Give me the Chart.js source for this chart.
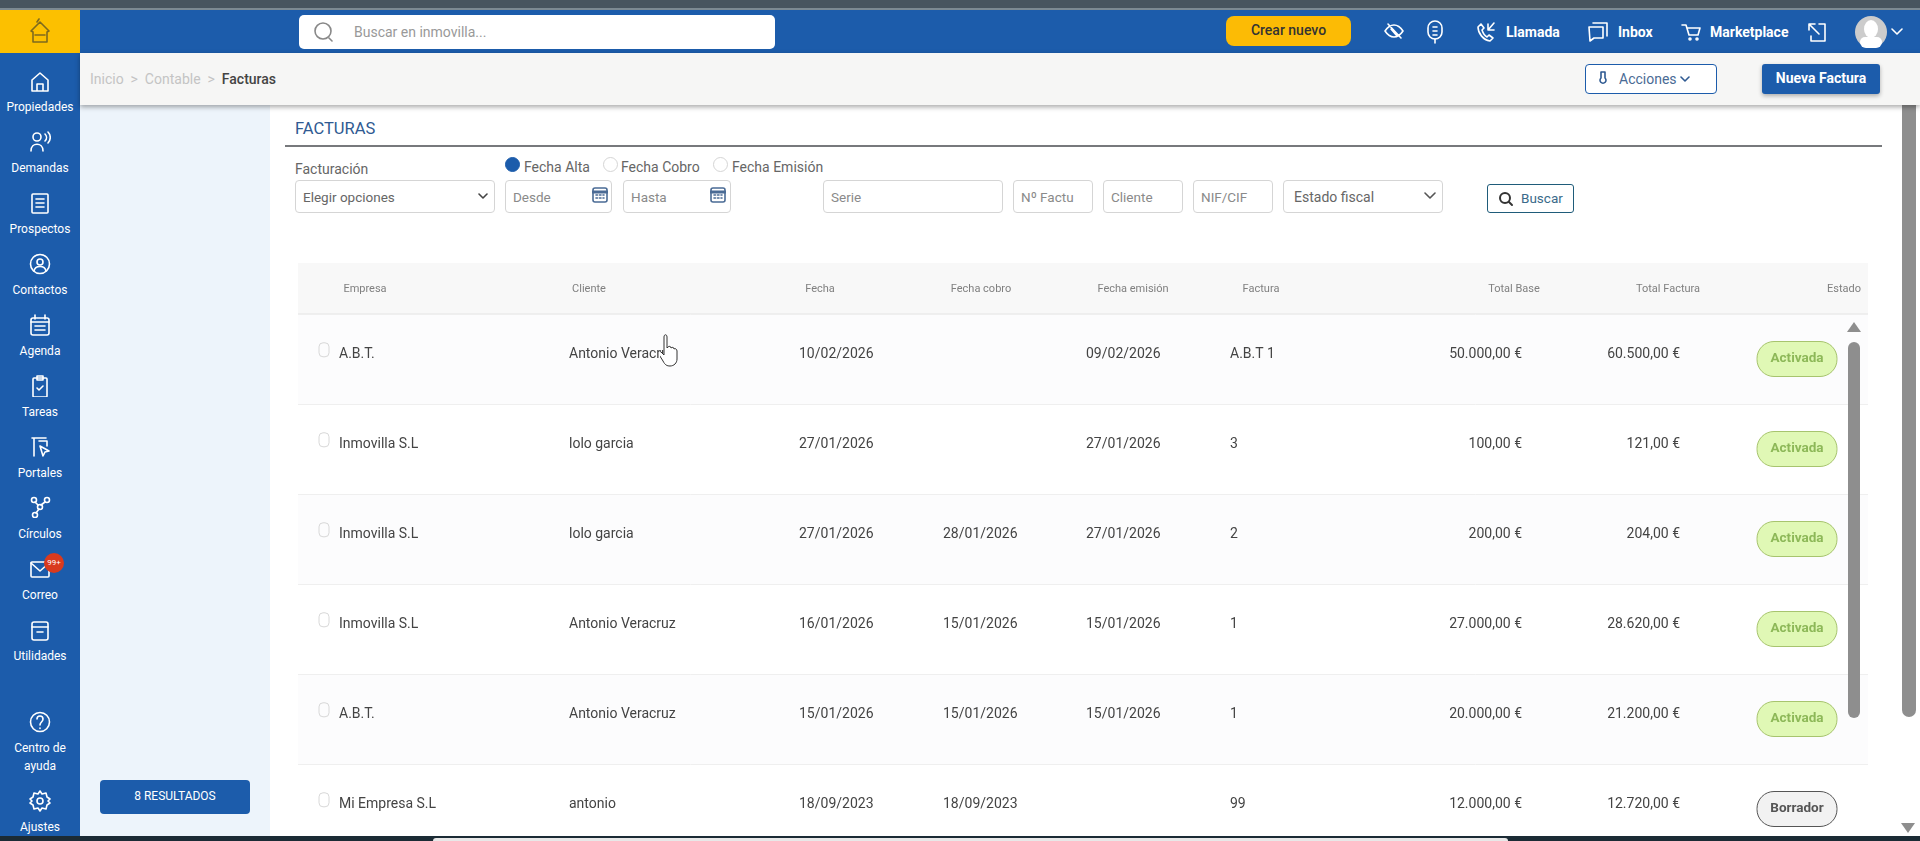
<!DOCTYPE html>
<html lang="es">
<head>
<meta charset="utf-8">
<title>Facturas</title>
<script src="https://cdn.jsdelivr.net/npm/chart.js@4"></script>
<style>
* { box-sizing: border-box; }
html, body { margin: 0; width: 1920px; height: 841px; overflow: hidden; background: #fff; font-family: Roboto, sans-serif; }
.a { position: absolute; white-space: nowrap; }
.field { position: absolute; top: 180px; height: 33px; border: 1px solid #d5d5d5; border-radius: 4px; font-size: 13.5px; color: #8a8a8a; line-height: 32px; padding-left: 7px; background: #fff; }
.ico { position: absolute; fill: none; stroke: currentColor; stroke-width: 1.6; stroke-linecap: round; stroke-linejoin: round; }
.side { position: absolute; left: 0; width: 80px; text-align: center; color: #fff; font-size: 12px; line-height: 18px; transform: translateY(-9px); }
.radio { position: absolute; top: 157px; width: 15px; height: 15px; border-radius: 50%; border: 1px solid #d5d5d5; }
.lbl { position: absolute; top: 158px; font-size: 14px; line-height: 18px; color: #666; white-space: nowrap; }
.top { position: absolute; top: 22px; font-size: 14px; font-weight: 700; line-height: 20px; color: #fff; white-space: nowrap; }
#tabla { position: absolute; left: 298px; top: 263px; }
</style>
</head>
<body>
<div class="a" style="left:0;top:0;width:1920px;height:8px;background:#48555f"></div>
<div class="a" style="left:0;top:8px;width:1920px;height:2px;background:#7d8a92"></div>
<div class="a" style="left:0;top:10px;width:1920px;height:43px;background:#1c5cab"></div>
<div class="a" style="left:0;top:10px;width:80px;height:43px;background:#fcc000"></div>
<div class="a" style="left:0;top:53px;width:80px;height:783px;background:#1c5cab"></div>
<div class="a" style="left:80px;top:53px;width:1840px;height:52px;background:#f6f6f5;box-shadow:0 2px 5px rgba(0,0,0,.35);z-index:2"></div>
<div class="a" style="left:80px;top:105px;width:190px;height:731px;background:#edf4fb"></div>

<svg class="ico" style="left:27px;top:18px;color:#7d6a1e" width="26" height="28" viewBox="0 0 26 28"><path d="M4 13 13 4l9 9-2 1v10H6V14zM8 17h10M10 4l2-3"/></svg>

<div class="a" style="left:299px;top:15px;width:476px;height:34px;background:#fff;border-radius:5px"></div>
<svg class="ico" style="left:313px;top:20px;color:#888" width="24" height="24" viewBox="0 0 24 24"><circle cx="10" cy="11" r="8"/><path d="m16 18 3 3"/></svg>
<div class="a" style="left:354px;top:22px;font-size:14px;line-height:20px;color:#999">Buscar en inmovilla...</div>

<div class="a" style="left:1226px;top:16px;width:125px;height:30px;background:#fcbb05;border-radius:8px;text-align:center;font-size:14px;font-weight:500;line-height:29px;color:#333">Crear nuevo</div>
<svg class="ico" style="left:1384px;top:21px;color:#fff" width="20" height="20" viewBox="0 0 20 20"><path d="M1 10s4-6 9-6 9 6 9 6-4 6-9 6-9-6-9-6zM4 3l13 14M7 8l6 7"/></svg>
<svg class="ico" style="left:1426px;top:19px;color:#fff" width="18" height="26" viewBox="0 0 18 26"><rect x="2" y="2" width="14" height="18" rx="7"/><path d="M9 20v4M7 8h4M7 12h4M7 16h4"/></svg>
<svg class="ico" style="left:1476px;top:21px;color:#fff" width="20" height="22" viewBox="0 0 20 22"><path d="M5 3 2 6c0 6 5 13 12 14l3-3-4-3-2 2c-2-1-4-4-5-7l2-2zM12 9l6-7M12 3v6h6"/></svg>
<div class="top" style="left:1506px">Llamada</div>
<svg class="ico" style="left:1588px;top:21px;color:#fff" width="20" height="22" viewBox="0 0 20 22"><path d="M5 2h14v13M1 6h14v11H6l-4 3z"/></svg>
<div class="top" style="left:1618px">Inbox</div>
<svg class="ico" style="left:1681px;top:22px;color:#fff" width="20" height="20" viewBox="0 0 20 20"><path d="M1 3h4l3 10h9l2-7H6"/><circle cx="9" cy="17" r="1"/><circle cx="16" cy="17" r="1"/></svg>
<div class="top" style="left:1710px">Marketplace</div>
<svg class="ico" style="left:1807px;top:21px;color:#fff" width="20" height="22" viewBox="0 0 20 22"><path d="M8 3H2v6M2 3l10 10M12 3h6v17H4v-5"/></svg>
<div class="a" style="left:1855px;top:16px;width:32px;height:32px;border-radius:50%;background:#ccc"></div>
<div class="a" style="left:1864px;top:20px;width:14px;height:18px;border-radius:50%;background:#fff"></div>
<div class="a" style="left:1860px;top:37px;width:22px;height:11px;border-radius:10px 10px 12px 12px;background:#fff"></div>
<svg class="ico" style="left:1891px;top:27px;color:#fff" width="12" height="10" viewBox="0 0 12 10"><path d="m1 2 5 5 5-5"/></svg>

<div class="a" style="left:90px;top:70px;font-size:14px;line-height:18px;z-index:3;color:#c4c4c4">Inicio &nbsp;&gt;&nbsp; Contable &nbsp;&gt;&nbsp; <b style="color:#444;font-weight:500">Facturas</b></div>
<div class="a" style="left:1585px;top:64px;width:132px;height:30px;background:#fff;border:1px solid #1c5cab;border-radius:4px;z-index:3;font-size:14px;line-height:28px;color:#4a6b95;padding-left:33px">Acciones</div>
<svg class="ico" style="left:1680px;top:76px;z-index:3;color:#2f5a92" width="10" height="8" viewBox="0 0 10 8"><path d="m1 1 4 4 4-4"/></svg>
<svg class="ico" style="left:1598px;top:70px;z-index:3;color:#2f5a92" width="10" height="16" viewBox="0 0 10 16"><path d="M3 2h4v6a3 3 0 1 1-4 0z"/></svg>
<div class="a" style="left:1762px;top:64px;width:118px;height:30px;background:#1c5cab;border-radius:3px;z-index:3;box-shadow:0 2px 4px rgba(0,0,0,.3);text-align:center;font-size:14px;font-weight:700;line-height:29px;color:#fff">Nueva Factura</div>

<div class="a" style="left:295px;top:119px;font-size:16.5px;line-height:20px;color:#2f5a92">FACTURAS</div>
<div class="a" style="left:285px;top:145px;width:1597px;height:2px;background:#77797c"></div>
<div class="a" style="left:295px;top:160px;font-size:14px;line-height:18px;color:#666">Facturación</div>
<div class="radio" style="left:505px;background:#1c5cab;border-color:#1c5cab"></div>
<div class="lbl" style="left:524px">Fecha Alta</div>
<div class="radio" style="left:603px"></div>
<div class="lbl" style="left:621px">Fecha Cobro</div>
<div class="radio" style="left:713px"></div>
<div class="lbl" style="left:732px">Fecha Emisión</div>

<div class="field" style="left:295px;width:200px;color:#666">Elegir opciones</div>
<div class="field" style="left:505px;width:107px">Desde</div>
<div class="field" style="left:623px;width:108px">Hasta</div>
<div class="field" style="left:823px;width:180px">Serie</div>
<div class="field" style="left:1013px;width:80px">Nº Factu</div>
<div class="field" style="left:1103px;width:80px">Cliente</div>
<div class="field" style="left:1193px;width:80px">NIF/CIF</div>
<div class="field" style="left:1283px;width:160px;color:#666;font-size:14px;padding-left:10px">Estado fiscal</div>
<svg class="ico" style="left:478px;top:193px;color:#444" width="10" height="8" viewBox="0 0 10 8"><path d="m1 1 4 4 4-4"/></svg>
<svg class="ico" style="left:1424px;top:192px;color:#555" width="12" height="9" viewBox="0 0 12 9"><path d="m1 1 5 5 5-5"/></svg>
<svg class="ico" style="left:592px;top:187px;color:#4a6b95" width="16" height="16" viewBox="0 0 16 16"><rect x="1" y="1" width="14" height="14" rx="2"/><path d="M1 5h14" stroke-width="3"/><path d="M4 8h8M4 11h8" stroke-dasharray="1.5 2"/></svg>
<svg class="ico" style="left:710px;top:187px;color:#4a6b95" width="16" height="16" viewBox="0 0 16 16"><rect x="1" y="1" width="14" height="14" rx="2"/><path d="M1 5h14" stroke-width="3"/><path d="M4 8h8M4 11h8" stroke-dasharray="1.5 2"/></svg>
<div class="a" style="left:1487px;top:184px;width:87px;height:29px;border:1px solid #1f5c7a;border-radius:3px;font-size:13.5px;line-height:27px;color:#3a6a8a;padding-left:33px">Buscar</div>
<svg class="ico" style="left:1498px;top:191px;color:#333;stroke-width:2" width="16" height="16" viewBox="0 0 16 16"><circle cx="7" cy="7" r="5"/><path d="m11 11 3 3"/></svg>

<div id="sidebar"></div>

<canvas id="tabla" width="1570" height="573"></canvas>

<div class="a" style="left:1848px;top:342px;width:12px;height:376px;background:#8e8e8e;border-radius:6px"></div>
<svg class="a" style="left:1847px;top:321px" width="14" height="12"><path d="M7 1 14 11H0z" fill="#8e8e8e"/></svg>
<div class="a" style="left:1902px;top:105px;width:14px;height:612px;background:#8e8e8e;border-radius:0 0 7px 7px"></div>
<svg class="a" style="left:1901px;top:822px" width="14" height="12"><path d="M7 11 14 1H0z" fill="#8e8e8e"/></svg>

<div class="a" style="left:100px;top:780px;width:150px;height:34px;background:#1c5cab;border-radius:4px;text-align:center;font-size:12px;line-height:33px;color:#fff">8 RESULTADOS</div>

<svg class="a" style="left:660px;top:334px" width="22" height="34" viewBox="0 0 22 34"><path d="M4 3c0-3 3-3 3 0v11l1-1c1-1 3-1 3 1 1-1 3-1 3 1 1-1 3 0 3 2v8c0 4-3 7-7 7-3 0-5-1-7-5l-5-8c0-2 2-2 3-1l3 3z" fill="#fff" stroke="#333" stroke-width="1"/></svg>

<div class="a" style="left:0;top:836px;width:1920px;height:5px;background:#1b2b35"></div>
<div class="a" style="left:433px;top:838px;width:1075px;height:3px;background:#e8e8e8;border-radius:4px 4px 0 0"></div>

<script>
// Contenido de la tabla de facturas
const columnas = ["Empresa", "Cliente", "Fecha", "Fecha cobro", "Fecha emisión", "Factura", "Total Base", "Total Factura", "Estado"];
const empresas = ["A.B.T.", "Inmovilla S.L", "Inmovilla S.L", "Inmovilla S.L", "A.B.T.", "Mi Empresa S.L"];
const clientes = ["Antonio Veracruz", "lolo garcia", "lolo garcia", "Antonio Veracruz", "Antonio Veracruz", "antonio"];
const fechas = ["10/02/2026", "27/01/2026", "27/01/2026", "16/01/2026", "15/01/2026", "18/09/2023"];
const fechasCobro = ["", "", "28/01/2026", "15/01/2026", "15/01/2026", "18/09/2023"];
const fechasEmision = ["09/02/2026", "27/01/2026", "27/01/2026", "15/01/2026", "15/01/2026", ""];
const facturas = ["A.B.T 1", "3", "2", "1", "1", "99"];
const totalBase = ["50.000,00 €", "100,00 €", "200,00 €", "27.000,00 €", "20.000,00 €", "12.000,00 €"];
const totalFactura = ["60.500,00 €", "121,00 €", "204,00 €", "28.620,00 €", "21.200,00 €", "12.720,00 €"];
const estados = ["Activada", "Activada", "Activada", "Activada", "Activada", "Borrador"];

const menu = ["Propiedades", "Demandas", "Prospectos", "Contactos", "Agenda", "Tareas", "Portales", "Círculos", "Correo", "Utilidades", "Centro de<br>ayuda", "Ajustes"];

// layout: el eje x va en pixeles de pagina
const centroCabecera = [365, 589, 820, 981, 1133, 1261, 1514, 1668, 1844];
const inicioColumna = [339, 569, 799, 943, 1086, 1230, 1522, 1680];
const alineado = ["left", "left", "left", "left", "left", "left", "right", "right"];
const centroEstado = 1797;
const altoFilaTexto = 0.445;

// menu lateral
const menuLabelY = [107, 168, 229, 290, 351, 412, 473, 534, 595, 656, 748, 827];
const menuIconY = [81, 141, 203, 264, 325, 386, 447, 507, 569, 630, 722, 801];
const iconos = [
    '<path d="M3 10 11 3l8 7v11H3zM8 21v-7h6v7"/>',
    '<circle cx="8" cy="7" r="4"/><path d="M2 21c0-9 12-9 12 0M16 4c2 2 2 5 0 7M19 2c3 3 3 8 0 11"/>',
    '<rect x="3" y="2" width="16" height="19" rx="1"/><path d="M7 7h8M7 11h8M7 15h8"/>',
    '<circle cx="11" cy="11" r="9.5"/><circle cx="11" cy="9" r="3"/><path d="M5 18c1-6 11-6 12 0"/>',
    '<rect x="2" y="4" width="18" height="17" rx="2"/><path d="M2 8h18M6 1v4M16 1v4M6 12h10M6 16h10" />',
    '<rect x="4" y="3" width="14" height="19" rx="1"/><path d="M8 1h6v4H8zM8 13l2 2 4-4"/>',
    '<path d="M3 2h14M5 2v18M10 5h8v5M11 10l9 5-4 1-2 4z"/>',
    '<circle cx="5" cy="4" r="2.5"/><circle cx="18" cy="4" r="2.5"/><circle cx="6" cy="19" r="2.5"/><circle cx="11" cy="11" r="2.5"/><path d="m6 6 3 3M16 6l-4 3M10 13l-3 4"/>',
    '<rect x="2" y="4" width="18" height="15" rx="1"/><path d="m2 5 9 8 9-8"/>',
    '<rect x="3" y="3" width="16" height="18" rx="2"/><path d="M3 8h16M8 13h6"/>',
    '<circle cx="11" cy="11" r="9.5"/><path d="M8 8c0-4 6-4 6 0 0 3-3 3-3 6M11 17v.5"/>',
    '<circle cx="11" cy="11" r="3"/><path d="m11 1 2 3 4-1 1 4 3 2-2 2 2 2-3 2-1 4-4-1-2 3-2-3-4 1-1-4-3-2 2-2-2-2 3-2 1-4 4 1z"/>'
];
const sidebar = document.getElementById("sidebar");
let html = "";
for (let i = 0; i < menu.length; i++) {
    html += '<svg class="ico" style="left:29px;top:' + (menuIconY[i] - 11) + 'px;color:#fff" width="22" height="22" viewBox="0 0 22 22">' + iconos[i] + "</svg>";
    html += '<div class="side" style="top:' + menuLabelY[i] + 'px">' + menu[i] + "</div>";
}
html += '<div class="a" style="left:44px;top:553px;width:20px;height:20px;border-radius:50%;background:#d93a1e;color:#fff;font-size:8px;line-height:20px;text-align:center">99+</div>';
sidebar.innerHTML = html;

// un dataset por columna, las filas salen de la escala y
function puntos(valores, x) {
    return valores.map((v, i) => ({ x: x, y: i + altoFilaTexto, texto: v }));
}
const textos = [empresas, clientes, fechas, fechasCobro, fechasEmision, facturas, totalBase, totalFactura];
const datasets = textos.map((col, c) => ({
    label: columnas[c],
    data: puntos(col, inicioColumna[c]),
    alinear: alineado[c],
    pointRadius: 0,
}));
datasets.push({
    label: "Estado",
    data: estados.map((v, i) => ({ x: centroEstado, y: i + 0.5, texto: v })),
    pildora: true,
    pointRadius: 0,
});

const dibujarTabla = {
    id: "dibujarTabla",
    beforeDraw(chart) {
        const c = chart.ctx, a = chart.chartArea, ys = chart.scales.y;
        c.save();
        c.fillStyle = "#f8f8f8";
        c.fillRect(0, 0, chart.width, a.top);
        c.fillStyle = "#eeeeee";
        c.fillRect(0, a.top - 1, chart.width, 2);
        c.fillStyle = "#fcfcfd";
        for (let i = 0; i < empresas.length; i += 2) {
            const y0 = ys.getPixelForValue(i), y1 = ys.getPixelForValue(i + 1);
            c.fillRect(0, y0, chart.width, y1 - y0);
        }
        c.restore();
    },
    afterDatasetsDraw(chart) {
        const c = chart.ctx;
        c.save();
        c.textBaseline = "middle";
        chart.data.datasets.forEach((ds, d) => {
            const meta = chart.getDatasetMeta(d);
            meta.data.forEach((p, i) => {
                const t = ds.data[i].texto;
                if (ds.pildora) {
                    const activa = t === "Activada";
                    c.beginPath();
                    c.roundRect(p.x - 40, p.y - 17.5, 80, 35, 17);
                    c.fillStyle = activa ? "#e0f8b5" : "#f2f2f2";
                    c.fill();
                    c.lineWidth = 1;
                    c.strokeStyle = activa ? "#a7c46e" : "#555555";
                    c.stroke();
                    c.font = "700 13.5px Roboto";
                    c.textAlign = "center";
                    c.fillStyle = activa ? "#8db858" : "#555555";
                    c.fillText(t, p.x, p.y);
                } else if (t) {
                    c.font = "14px Roboto";
                    c.textAlign = ds.alinear;
                    c.fillStyle = "#444444";
                    c.fillText(t, p.x, p.y);
                }
            });
        });
        // casillas de seleccion
        const ys = chart.scales.y, xs = chart.scales.x;
        c.strokeStyle = "#d8d8d8";
        empresas.forEach((e, i) => {
            c.beginPath();
            c.roundRect(xs.getPixelForValue(319), ys.getPixelForValue(i + 0.32), 10, 14, 4);
            c.stroke();
        });
        c.restore();
    },
};

const chart_tabla = new Chart(document.getElementById("tabla").getContext("2d"), {
    type: "scatter",
    data: { datasets: datasets },
    plugins: [dibujarTabla],
    options: {
        responsive: false,
        animation: false,
        events: [],
        layout: { padding: 0 },
        plugins: { legend: { display: false }, tooltip: { enabled: false } },
        scales: {
            x: {
                type: "linear",
                position: "top",
                min: 298,
                max: 1868,
                border: { display: false },
                grid: { display: false, drawTicks: false },
                afterBuildTicks: (s) => { s.ticks = centroCabecera.map((v) => ({ value: v })); },
                // sin margen extra para que el eje x coincida con la pagina
                afterFit: (s) => { s.height = 51; s.paddingLeft = 0; s.paddingRight = 0; },
                ticks: {
                    autoSkip: false,
                    maxRotation: 0,
                    padding: 18,
                    color: "#808080",
                    font: { family: "Roboto", size: 11 },
                    callback: (v) => columnas[centroCabecera.indexOf(v)],
                },
            },
            y: {
                type: "linear",
                reverse: true,
                min: 0,
                max: 5.8,
                border: { display: false },
                grid: { color: "#efefef", drawTicks: false },
                afterFit: (s) => { s.width = 0; },
                ticks: { display: false, stepSize: 1 },
            },
        },
    },
});
</script>
</body>
</html>
